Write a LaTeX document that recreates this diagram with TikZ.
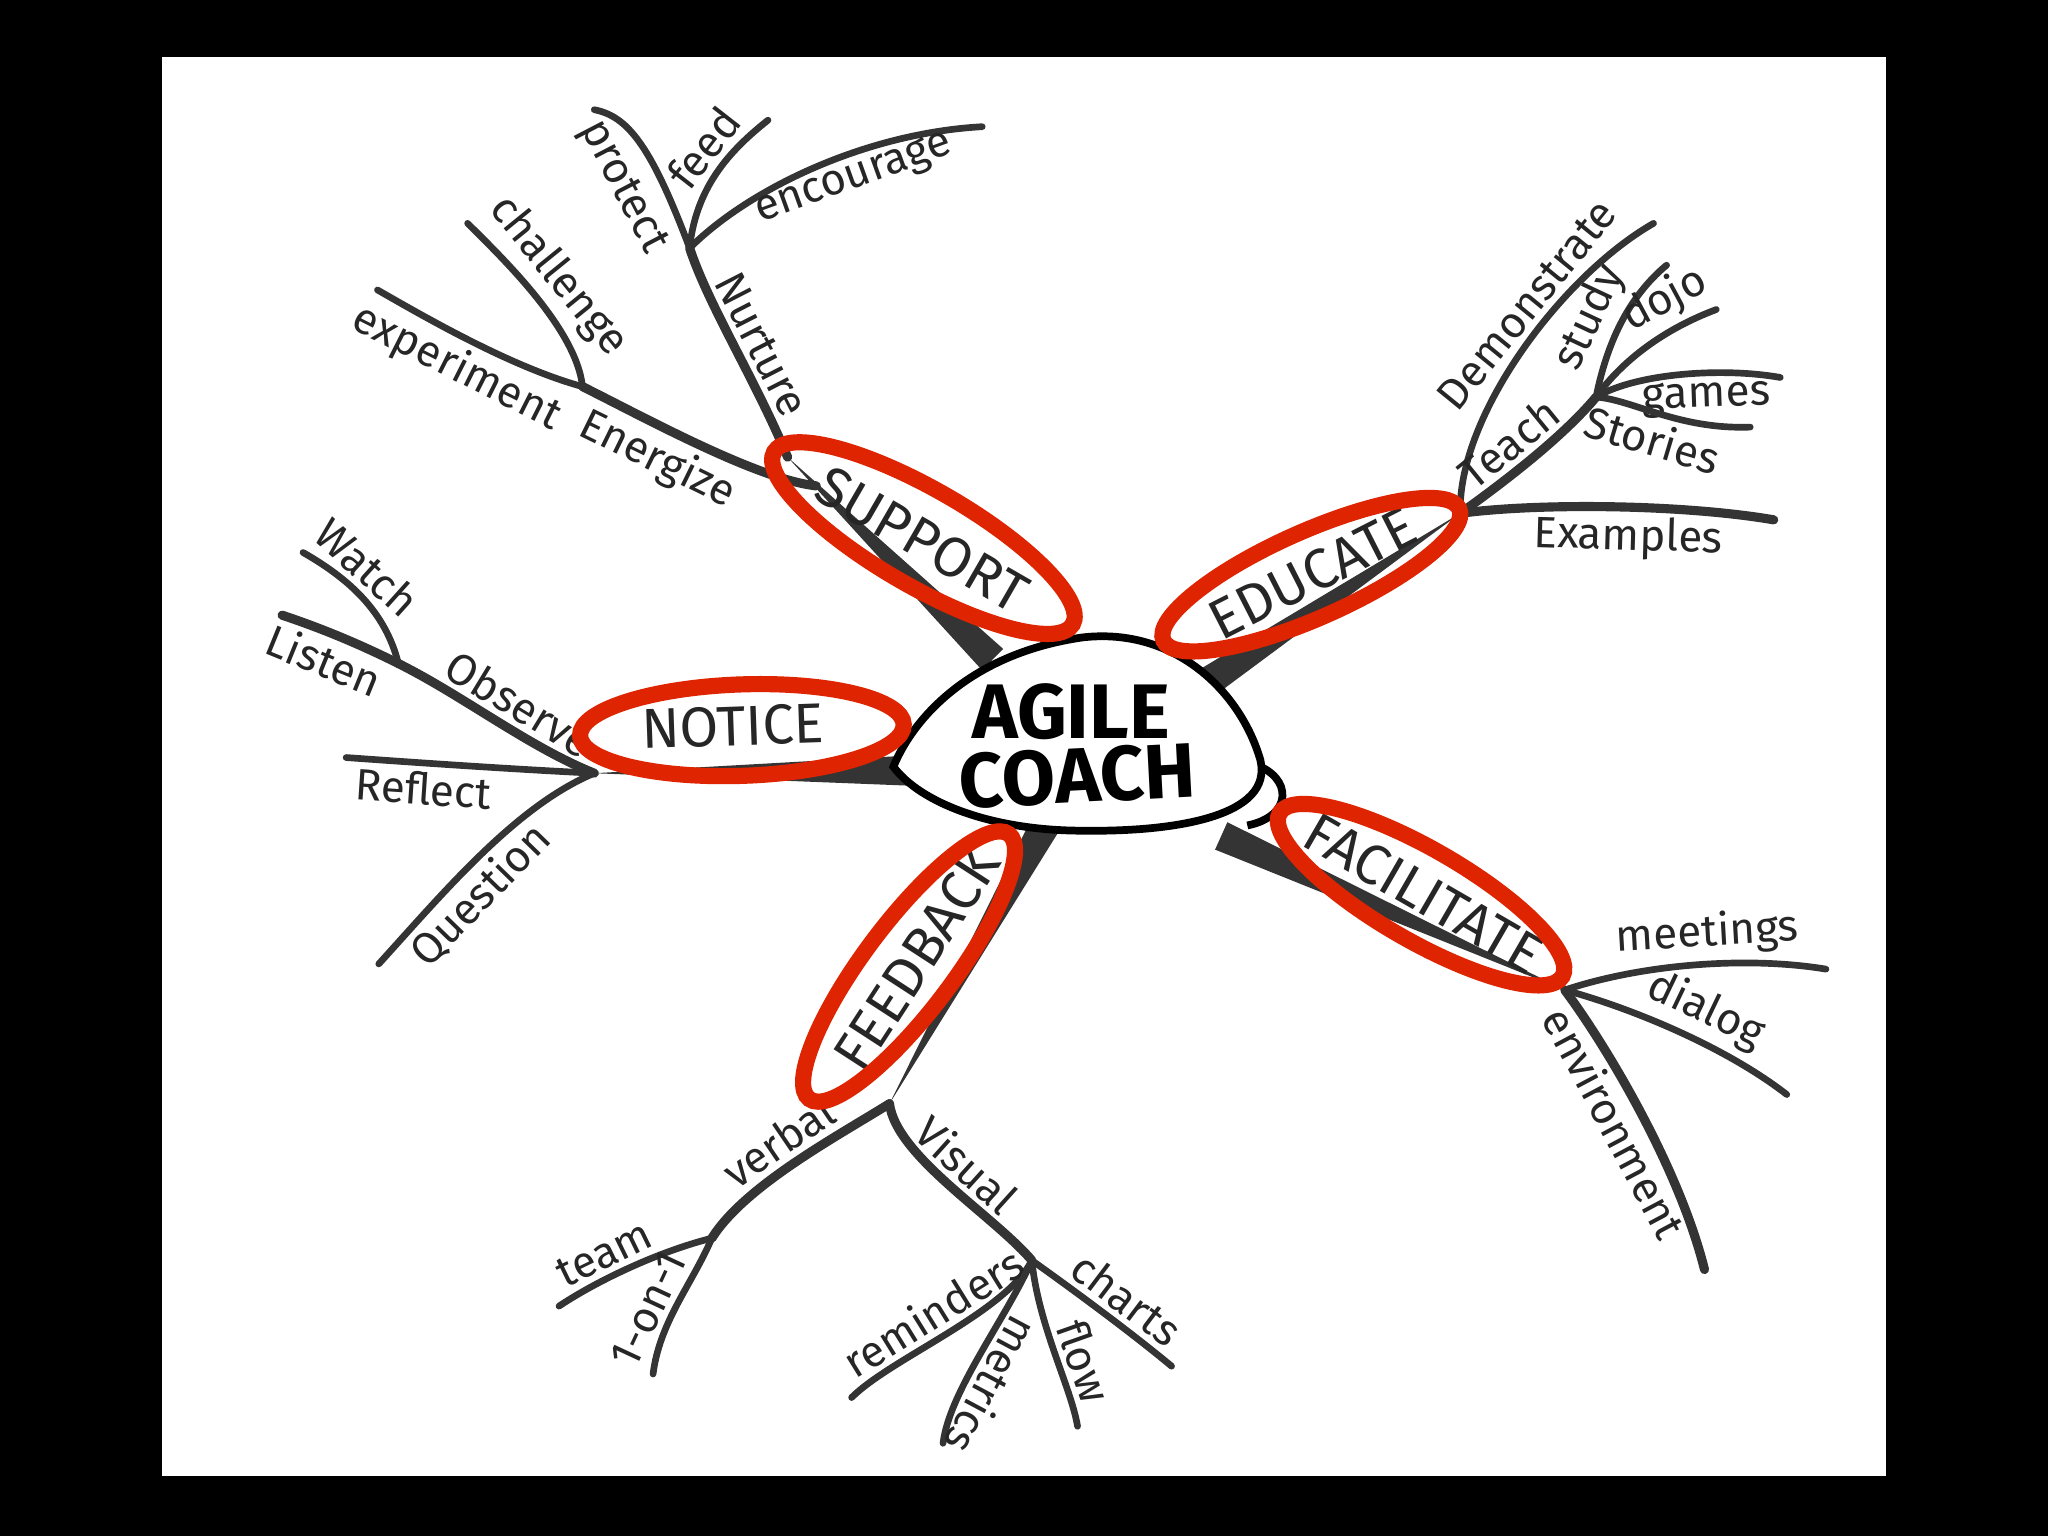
\documentclass[tikz,border=0pt]{standalone}
\usepackage{fontspec}
\setmainfont{Fira Sans}
\newfontfamily\handfont{Fira Sans}
\usetikzlibrary{calc}

\definecolor{ink}{RGB}{52,52,52}
\definecolor{ringred}{RGB}{222,36,0}

\begin{document}
\begin{tikzpicture}[x=0.01306cm,y=-0.01306cm,
  twig/.style={draw=ink,line width=1.9pt,line cap=round},
  bough/.style={draw=ink,line width=2.6pt,line cap=round},
  leaf/.style={font=\handfont\fontsize{12.5}{14}\selectfont,text=black!85,inner sep=1.5pt,sloped},
  topic/.style={font=\handfont\fontsize{16}{18}\selectfont,text=black!85,inner sep=0pt},
  ring/.style={draw=ringred,line width=4.6pt}]
  \useasboundingbox (0,0) rectangle (1568,1176);
  \fill[black] (0,0) rectangle (1568,1176);
  \fill[white] (124,44) rectangle (1444,1130);

  % hubs
  \coordinate (S) at (603,350);   \coordinate (S2) at (625,372);
  \coordinate (E) at (1118,393);  \coordinate (T) at (1222,304);
  \coordinate (N) at (455,592);   \coordinate (Of) at (305,508);
  \coordinate (F) at (681,845);   \coordinate (Tf) at (545,948);
  \coordinate (Vf) at (790,965);  \coordinate (Fa) at (1198,758);
  \coordinate (Nf) at (528,190);  \coordinate (Ef) at (446,296);
  % where the trunks leave the coach
  \coordinate (baseS) at (760,505);  \coordinate (baseE) at (925,522);
  \coordinate (baseN) at (695,590);  \coordinate (baseF) at (800,632);
  \coordinate (baseFa) at (935,640);
  % free ends
  \coordinate (protectend) at (455,84);   \coordinate (feedend) at (588,92);
  \coordinate (encourageend) at (752,97); \coordinate (challengeend) at (358,171);
  \coordinate (experimentend) at (289,222);
  \coordinate (demonstrateend) at (1266,171); \coordinate (studyend) at (1276,203);
  \coordinate (dojoend) at (1314,237);    \coordinate (gamesend) at (1363,289);
  \coordinate (storiesend) at (1340,327); \coordinate (examplesend) at (1358,398);
  \coordinate (watchend) at (232,423);    \coordinate (listenend) at (216,471);
  \coordinate (reflectend) at (265,580);  \coordinate (questionend) at (290,738);
  \coordinate (teamend) at (428,1000);    \coordinate (oneend) at (500,1052);
  \coordinate (remindersend) at (652,1070); \coordinate (metricsend) at (722,1105);
  \coordinate (flowend) at (825,1092);    \coordinate (chartsend) at (897,1046);
  \coordinate (meetingsend) at (1398,742); \coordinate (dialogend) at (1368,838);
  \coordinate (envend) at (1305,972);

  % trunks
  \foreach \hub/\base in {S/baseS,E/baseE,N/baseN,F/baseF,Fa/baseFa}
    \fill[ink] (\hub) -- ($(\base)!0.15cm!90:(\hub)$) -- ($(\base)!0.15cm!-90:(\hub)$) -- cycle;

  % support
  \draw[bough] (S) .. controls +(-25,-60) and +(15,45) .. (Nf) node[leaf,pos=0.45,above] (lnurture) {Nurture};
  \draw[twig] (Nf) .. controls +(-30,-80) and +(25,5) .. (protectend) node[leaf,pos=0.32,below=3pt] (lprotect) {protect};
  \draw[twig] (Nf) .. controls +(5,-50) and +(-25,20) .. (feedend) node[leaf,pos=0.55,above] (lfeed) {feed};
  \draw[twig] (Nf) .. controls +(45,-45) and +(-90,5) .. (encourageend) node[leaf,pos=0.6,below] (lencourage) {encourage};
  \draw[bough] (S2) .. controls +(-45,-5) and +(50,25) .. (Ef) node[leaf,pos=0.62,below] (lenergize) {Energize};
  \draw[twig] (Ef) .. controls +(-5,-45) and +(25,25) .. (challengeend) node[leaf,pos=0.5,above] (lchallenge) {challenge};
  \draw[twig] (Ef) .. controls +(-55,-15) and +(35,20) .. (experimentend) node[leaf,pos=0.5,below] (lexperiment) {experiment};

  % educate
  \draw[twig] (E) .. controls +(-2,-75) and +(-70,40) .. (demonstrateend) node[leaf,pos=0.6,above] (ldemonstrate) {Demonstrate};
  \draw[bough] (E) .. controls +(35,-25) and +(-25,30) .. (T) node[leaf,pos=0.45,above] (lteach) {Teach};
  \draw[twig] (T) .. controls +(8,-40) and +(-30,25) .. (studyend) node[leaf,pos=0.45,above] (lstudy) {study};
  \draw[twig] (T) .. controls +(20,-28) and +(-40,15) .. (dojoend) node[leaf,pos=0.75,above] (ldojo) {dojo};
  \draw[twig] (T) .. controls +(30,-18) and +(-45,-8) .. (gamesend) node[leaf,pos=0.62,below] (lgames) {games};
  \draw[twig] (T) .. controls +(28,2) and +(-55,2) .. (storiesend) node[leaf,pos=0.5,below] (lstories) {Stories};
  \draw[bough] (E) .. controls +(60,-8) and +(-70,-12) .. (examplesend) node[leaf,pos=0.55,below] (lexamples) {Examples};

  % notice
  \draw[bough] (N) .. controls +(-50,-20) and +(50,25) .. (Of) node[leaf,pos=0.45,above] (lobserve) {Observe};
  \draw[twig] (Of) .. controls +(-10,-40) and +(35,20) .. (watchend) node[leaf,pos=0.62,above] (lwatch) {Watch};
  \draw[bough] (Of) .. controls +(-30,-15) and +(30,10) .. (listenend) node[leaf,pos=0.55,below] (llisten) {Listen};
  \draw[twig] (N) .. controls +(-60,-3) and +(70,5) .. (reflectend) node[leaf,pos=0.7,below] (lreflect) {Reflect};
  \draw[twig] (N) .. controls +(-60,25) and +(50,-55) .. (questionend) node[leaf,pos=0.6,below] (lquestion) {Question};

  % feedback
  \draw[bough] (F) .. controls +(-40,25) and +(25,-40) .. (Tf) node[leaf,pos=0.5,above] (lverbal) {verbal};
  \draw[twig] (Tf) .. controls +(-40,10) and +(30,-20) .. (teamend) node[leaf,pos=0.6,above] (lteam) {team};
  \draw[twig] (Tf) .. controls +(-15,35) and +(5,-40) .. (oneend) node[leaf,pos=0.62,above] (lone) {1-on-1};
  \draw[bough] (F) .. controls +(5,40) and +(-30,-35) .. (Vf) node[leaf,pos=0.5,above] (lvisual) {Visual};
  \draw[twig] (Vf) .. controls +(-20,40) and +(30,-30) .. (remindersend) node[leaf,pos=0.5,above] (lreminders) {reminders};
  \draw[twig] (Vf) .. controls +(-20,45) and +(5,-40) .. (metricsend) node[leaf,pos=0.6,above,allow upside down] (lmetrics) {metrics};
  \draw[twig] (Vf) .. controls +(5,50) and +(-5,-30) .. (flowend) node[leaf,pos=0.6,above] (lflow) {flow};
  \draw[twig] (Vf) .. controls +(35,25) and +(-30,-25) .. (chartsend) node[leaf,pos=0.55,above] (lcharts) {charts};

  % facilitate
  \draw[twig] (Fa) .. controls +(60,-20) and +(-60,-10) .. (meetingsend) node[leaf,pos=0.55,above] (lmeetings) {meetings};
  \draw[twig] (Fa) .. controls +(55,15) and +(-45,-35) .. (dialogend) node[leaf,pos=0.55,above] (ldialog) {dialog};
  \draw[bough] (Fa) .. controls +(30,40) and +(-20,-80) .. (envend) node[leaf,pos=0.5,below] (lenvironment) {environment};

  % the coach
  \draw[black,line width=2.2pt] (960,585) .. controls (990,595) and (990,625) .. (955,632);
  \draw[black,line width=2.2pt,fill=white] (684,587) .. controls (700,548) and (745,500) .. (829,488)
    .. controls (900,480) and (950,530) .. (965,582) .. controls (975,625) and (900,637) .. (829,636)
    .. controls (760,636) and (705,615) .. (684,587) -- cycle;
  \node[font=\handfont\bfseries\fontsize{22}{24}\selectfont] (agile) at (820,545) {AGILE};
  \node[font=\handfont\bfseries\fontsize{22}{24}\selectfont,rotate=3] (coach) at (825,594) {COACH};

  % topics
  \node[topic,rotate=-30] (support) at (706,413) {SUPPORT};
  \node[topic,rotate=27] (educate) at (1005,439) {EDUCATE};
  \node[topic,rotate=2] (notice) at (561,556) {NOTICE};
  \node[topic,rotate=57] (feedback) at (702,734) {FEEDBACK};
  \node[topic,rotate=-30] (facilitate) at (1090,684) {FACILITATE};

  % red rings
  \draw[ring,rotate around={-30:(707,412)}] (707,412) ellipse (132 and 37);
  \draw[ring,rotate around={24:(1004,440)}] (1004,440) ellipse (124 and 33);
  \draw[ring,rotate around={2:(568,559)}] (568,559) ellipse (124 and 35);
  \draw[ring,rotate around={53:(696,740)}] (696,740) ellipse (127 and 34);
  \draw[ring,rotate around={-30:(1088,685)}] (1088,685) ellipse (125 and 35);
\end{tikzpicture}
\end{document}
